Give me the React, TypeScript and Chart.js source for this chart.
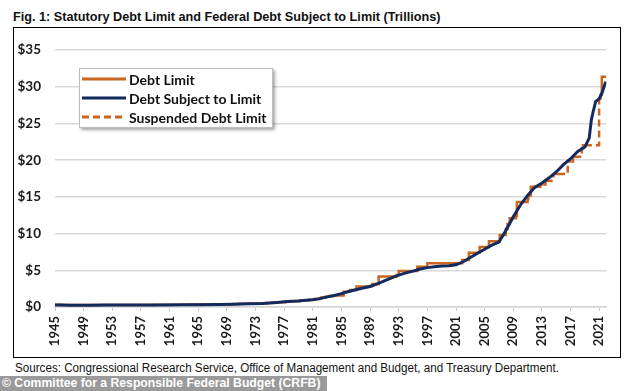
import React, { useEffect, useRef } from "react";
import { Chart, registerables } from "chart.js";

Chart.register(...registerables);

const xTickYears = [1945, 1949, 1953, 1957, 1961, 1965, 1969, 1973, 1977, 1981, 1985, 1989, 1993, 1997, 2001, 2005, 2009, 2013, 2017, 2021];
const yTickValues = [0, 5, 10, 15, 20, 25, 30, 35];

// Statutory debt limit (trillions), positions of the step changes
const limitYears = [
  1945.0, 1945.85, 1954.0, 1956.9, 1957.55, 1958.1, 1958.9, 1960.9, 1961.9, 1962.9, 1963.9, 1964.9, 1965.9,
  1966.65, 1966.9, 1968.9, 1969.9, 1970.6, 1971.9, 1972.2, 1973.9, 1974.5, 1974.9, 1975.9, 1977.2, 1978.2,
  1978.6, 1979.2, 1979.9, 1980.2, 1980.5, 1981.2, 1981.9, 1982.15, 1982.8, 1983.3, 1983.9, 1985.3, 1986.0,
  1986.2, 1987.0, 1987.1, 1989.0, 1989.3, 1990.2, 1992.7, 1993.0, 1995.6, 1997.0, 2001.85, 2002.8, 2004.3,
  2005.6, 2007.1, 2007.95, 2008.2, 2008.5, 2009.35, 2009.5, 2011.0, 2011.1, 2011.45, 2012.49, 2012.78,
  2013.19, 2013.5, 2013.52, 2014.6, 2015.24, 2016.6, 2017.09, 2017.34, 2017.51, 2018.57, 2018.99, 2020.98,
  2021.19, 2021.36, 2022.0,
];
const limitValues = [
  0.3, 0.275, 0.281, 0.275, 0.28, 0.288, 0.295, 0.298, 0.308, 0.309, 0.324, 0.328, 0.33,
  0.336, 0.358, 0.377, 0.395, 0.43, 0.45, 0.465, 0.495, 0.531, 0.577, 0.636, 0.752, 0.798,
  0.83, 0.879, 0.925, 0.935, 0.985, 1.08, 1.143, 1.29, 1.389, 1.49, 1.573, 2.079, 2.111,
  2.3, 2.352, 2.8, 2.87, 3.123, 4.145, 4.37, 4.9, 5.5, 5.95, 6.4, 7.384, 8.184,
  8.965, 9.815, 10.615, 11.315, 12.104, 12.394, 14.294, 14.694, 15.194, 16.394, 16.394, 16.699,
  16.699, 17.212, 17.212, 18.113, 18.113, 19.809, 19.809, 20.456, 20.456, 22.03, 22.03, 28.401,
  28.881, 31.381, 31.381,
];
// 1 = the period starting at this point is a suspension of the limit
const limitSuspended = [
  0, 0, 0, 0, 0, 0, 0, 0, 0, 0, 0, 0, 0,
  0, 0, 0, 0, 0, 0, 0, 0, 0, 0, 0, 0, 0,
  0, 0, 0, 0, 0, 0, 0, 0, 0, 0, 0, 0, 0,
  0, 0, 0, 0, 0, 0, 0, 0, 0, 0, 0, 0, 0,
  0, 0, 0, 0, 0, 0, 0, 0, 0, 0, 1, 0,
  1, 0, 1, 0, 1, 0, 1, 0, 1, 0, 1, 0,
  0, 0, 0,
];

// Debt subject to limit (trillions)
const debtYears = [
  1945, 1946, 1947, 1948, 1950, 1952, 1955, 1958, 1960, 1963, 1965, 1968, 1970, 1972, 1974, 1975, 1976,
  1977, 1978, 1979, 1980, 1981, 1982, 1983, 1984, 1985, 1986, 1987, 1988, 1989, 1990, 1991, 1992, 1993,
  1994, 1995, 1996, 1997, 1998, 1999, 2000, 2001, 2002, 2003, 2004, 2005, 2006, 2007, 2008, 2009, 2010,
  2011, 2012, 2013, 2014, 2015, 2016, 2017, 2018, 2019, 2019.6, 2019.9, 2020.1, 2020.5, 2021.0, 2021.4,
  2021.9,
];
const debtValues = [
  0.26, 0.27, 0.255, 0.25, 0.255, 0.258, 0.272, 0.276, 0.285, 0.304, 0.315, 0.347, 0.373, 0.428, 0.476, 0.534, 0.621,
  0.7, 0.772, 0.828, 0.908, 0.998, 1.142, 1.377, 1.573, 1.823, 2.111, 2.35, 2.587, 2.8, 3.161, 3.569, 3.973, 4.344,
  4.645, 4.885, 5.182, 5.366, 5.479, 5.578, 5.625, 5.75, 6.161, 6.738, 7.333, 7.871, 8.421, 8.85, 10.5, 12.3, 13.9,
  15.2, 16.3, 16.9, 17.6, 18.4, 19.4, 20.2, 21.2, 21.8, 23.0, 25.5, 26.4, 28.0, 28.4, 29.2,
  30.7,
];

const ORANGE = "#C9651F";
const NAVY = "#132A5E";
const TICK_FONT = "Lato, 'Open Sans', sans-serif";

export default function App() {
  const canvasRef = useRef<HTMLCanvasElement | null>(null);

  useEffect(() => {
    document.body.style.margin = "0";
    const canvas = canvasRef.current;
    if (!canvas) return;
    const chart = new Chart(canvas, {
      type: "line",
      data: {
        datasets: [
          {
            label: "Debt Subject to Limit",
            data: debtYears.map((x, i) => ({ x, y: debtValues[i] })),
            borderColor: NAVY,
            borderWidth: 3,
            pointRadius: 0,
            tension: 0,
            fill: false,
          },
          {
            label: "Debt Limit",
            data: limitYears.map((x, i) => ({ x, y: limitValues[i] })),
            borderColor: ORANGE,
            borderWidth: 2.5,
            pointRadius: 0,
            stepped: "before",
            fill: false,
            segment: {
              borderDash: (ctx: any) => (limitSuspended[ctx.p0DataIndex] ? [7, 4] : undefined),
            },
          },
        ],
      },
      options: {
        animation: false,
        responsive: true,
        maintainAspectRatio: false,
        layout: { padding: { top: 7, right: 13, bottom: 0, left: 0 } },
        plugins: { legend: { display: false }, tooltip: { enabled: false } },
        scales: {
          x: {
            type: "linear",
            min: 1945,
            max: 2022,
            afterBuildTicks: (scale: any) => {
              scale.ticks = xTickYears.map((v) => ({ value: v }));
            },
            afterFit: (scale: any) => {
              scale.height = 50;
            },
            ticks: {
              minRotation: 90,
              maxRotation: 90,
              autoSkip: false,
              padding: 5,
              color: "#1a1a1a",
              font: { family: TICK_FONT, size: 13, weight: "bold" },
              callback: (v: any) => String(v),
            },
            grid: { drawOnChartArea: false, drawTicks: true, tickLength: 4, color: "#c8c8c8" },
            border: { display: true, color: "#d4d4d4", width: 1.5 },
          },
          y: {
            min: 0,
            max: 35,
            afterBuildTicks: (scale: any) => {
              scale.ticks = yTickValues.map((v) => ({ value: v }));
            },
            afterFit: (scale: any) => {
              scale.width = 41;
            },
            ticks: {
              padding: 14,
              color: "#1a1a1a",
              font: { family: TICK_FONT, size: 13.5, weight: "bold" },
              callback: (v: any) => "$" + v,
            },
            grid: { drawTicks: false, color: "#d9d9d9", lineWidth: 1.5 },
            border: { display: false },
          },
        },
      },
    });
    return () => chart.destroy();
  }, []);

  const legendRow = (label: string, dashed: boolean, color: string, top: number) => (
    <div style={{ position: "absolute", left: 2, top, height: 20, display: "flex", alignItems: "center" }}>
      <svg width={44} height={6} style={{ display: "block" }}>
        <line x1={0} y1={3} x2={44} y2={3} stroke={color} strokeWidth={3} strokeDasharray={dashed ? "7 4" : undefined} />
      </svg>
      <span style={{ marginLeft: 3, fontFamily: TICK_FONT, fontWeight: 700, fontSize: 14, color: "#111", whiteSpace: "nowrap" }}>
        {label}
      </span>
    </div>
  );

  return (
    <div style={{ position: "relative", width: 634, height: 391, background: "#fff", overflow: "hidden" }}>
      <div
        style={{
          position: "absolute",
          left: 13,
          top: 9,
          fontFamily: "'Liberation Sans', Arial, sans-serif",
          fontWeight: 700,
          fontSize: 13,
          color: "#111",
          whiteSpace: "nowrap",
          transform: "scaleX(0.975)",
          transformOrigin: "left top",
        }}
      >
        Fig. 1: Statutory Debt Limit and Federal Debt Subject to Limit (Trillions)
      </div>
      <div
        style={{
          position: "absolute",
          left: 13,
          top: 27,
          width: 606,
          height: 329,
          border: "1px solid #000",
        }}
      >
        <canvas ref={canvasRef} />
        <div
          style={{
            position: "absolute",
            left: 65,
            top: 40,
            width: 192,
            height: 58,
            background: "#fff",
            border: "1px solid #bdbdbd",
            boxShadow: "2px 2px 3px rgba(0,0,0,0.35)",
          }}
        >
          {legendRow("Debt Limit", false, ORANGE, 0)}
          {legendRow("Debt Subject to Limit", false, NAVY, 19)}
          {legendRow("Suspended Debt Limit", true, ORANGE, 38)}
        </div>
      </div>
      <div
        style={{
          position: "absolute",
          left: 15,
          top: 361,
          fontFamily: "'Liberation Sans', Arial, sans-serif",
          fontSize: 12,
          color: "#111",
          whiteSpace: "nowrap",
          transform: "scaleX(0.97)",
          transformOrigin: "left top",
        }}
      >
        Sources: Congressional Research Service, Office of Management and Budget, and Treasury Department.
      </div>
      <div
        style={{
          position: "absolute",
          left: 0,
          top: 376,
          width: 327,
          height: 15,
          background: "#9a9a9a",
        }}
      >
        <div
          style={{
            position: "absolute",
            left: 2,
            top: 0,
            fontFamily: "'Liberation Sans', Arial, sans-serif",
            fontWeight: 700,
            fontSize: 12.2,
            lineHeight: "15px",
            color: "#fff",
            whiteSpace: "nowrap",
          }}
        >
          © Committee for a Responsible Federal Budget (CRFB)
        </div>
      </div>
    </div>
  );
}
